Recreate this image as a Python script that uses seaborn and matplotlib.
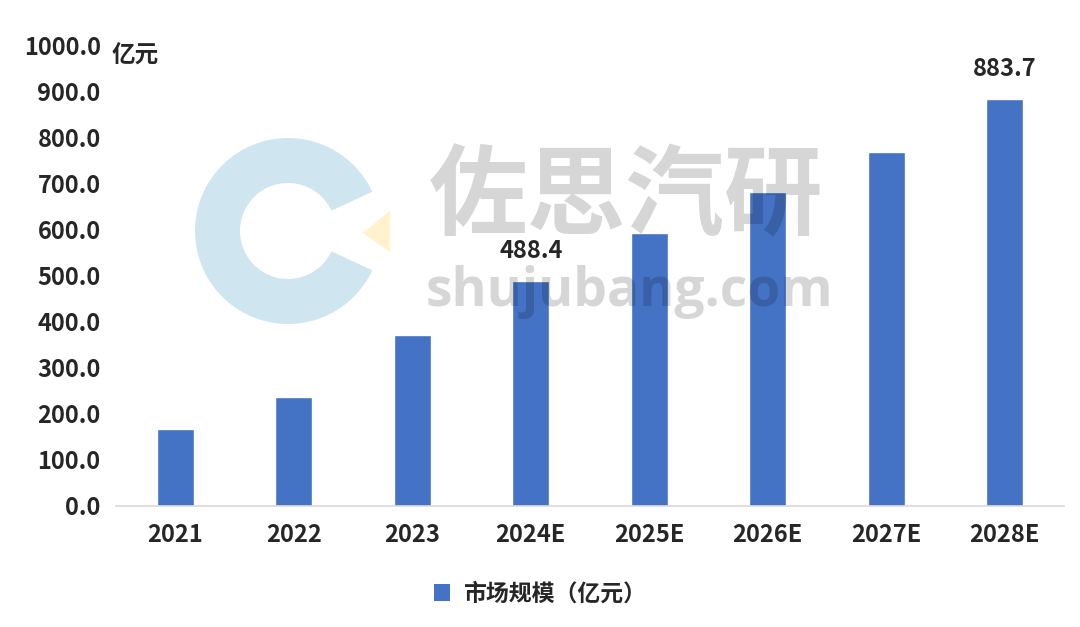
import matplotlib
matplotlib.use('Agg')
import matplotlib.pyplot as plt
from matplotlib.patches import Wedge, Polygon, Patch
import pandas as pd
import seaborn as sns

YEARS = ['2021', '2022', '2023', '2024E', '2025E', '2026E', '2027E', '2028E']
MARKET_SIZE = [167.0, 236.0, 372.0, 488.4, 593.0, 682.0, 768.0, 883.7]
SHOWN_LABELS = ['', '', '', '488.4', '', '', '', '883.7']
SERIES_NAME = '市场规模（亿元）'
UNIT = '亿元'

BAR_COLOR = '#4472C4'
FS = 17

sns.set_style('white')
plt.rcParams['font.family'] = ['Noto Sans CJK SC', 'DejaVu Sans']
plt.rcParams['font.weight'] = 'bold'

df = pd.DataFrame({'year': YEARS, 'size': MARKET_SIZE})

fig = plt.figure(figsize=(10.8, 6.27), dpi=100)
ax = fig.add_axes([0.1074, 0.193, 0.8778, 0.735])

sns.barplot(data=df, x='year', y='size', color=BAR_COLOR, width=0.31,
            saturation=1, ax=ax)

ax.set_ylim(0, 1000)
ax.set_yticks(range(0, 1001, 100))
ax.set_yticklabels([f'{v:.1f}' for v in range(0, 1001, 100)])
ax.set_xlabel('')
ax.set_ylabel('')
ax.tick_params(axis='both', length=0, labelsize=FS)
ax.tick_params(axis='y', pad=11)
ax.tick_params(axis='x', pad=12)
for lab in ax.get_xticklabels() + ax.get_yticklabels():
    lab.set_fontweight('bold')

for side in ['top', 'right', 'left']:
    ax.spines[side].set_visible(False)
ax.spines['bottom'].set_color('#D9D9D9')
ax.spines['bottom'].set_linewidth(1.2)

ax.bar_label(ax.containers[0], labels=SHOWN_LABELS, padding=13,
             fontsize=FS, fontweight='bold')

# unit label next to top tick
fig.text(112 / 1080, 1 - 56 / 627, UNIT, fontsize=FS, fontweight='bold',
         va='center', ha='left')

# legend
handle = Patch(facecolor=BAR_COLOR, edgecolor='none', label=SERIES_NAME)
fig.legend(handles=[handle], loc='center', bbox_to_anchor=(0.5, 1 - 594 / 627),
           frameon=False, handlelength=0.72, handleheight=0.72,
           handletextpad=0.55, prop={'weight': 'bold', 'size': 16.5})

# watermark logo (figure pixel coords)
cx, cy = 288, 627 - 231
fig.patches.append(Wedge((cx, cy), 93, 25, 335, width=45, facecolor='#CFE6F0',
                         edgecolor='none', transform=None, figure=fig, zorder=0))
fig.patches.append(Polygon([(363, 627 - 233), (390, 627 - 211), (390, 627 - 252)],
                           closed=True, facecolor='#FFF2CC', edgecolor='none',
                           transform=None, figure=fig, zorder=0))

# watermark text drawn over the bars
fig.text(626 / 1080, 1 - 198 / 627, '佐思汽研', fontsize=71, fontweight='bold',
         color='black', alpha=0.16, ha='center', va='center', zorder=10)
fig.text(629 / 1080, 1 - 306 / 627, 'shujubang.com', fontsize=38.5, fontweight='bold',
         color='black', alpha=0.16, ha='center', va='baseline', zorder=10,
         family=['Open Sans', 'DejaVu Sans'])

fig.savefig('out.png', dpi=100)
